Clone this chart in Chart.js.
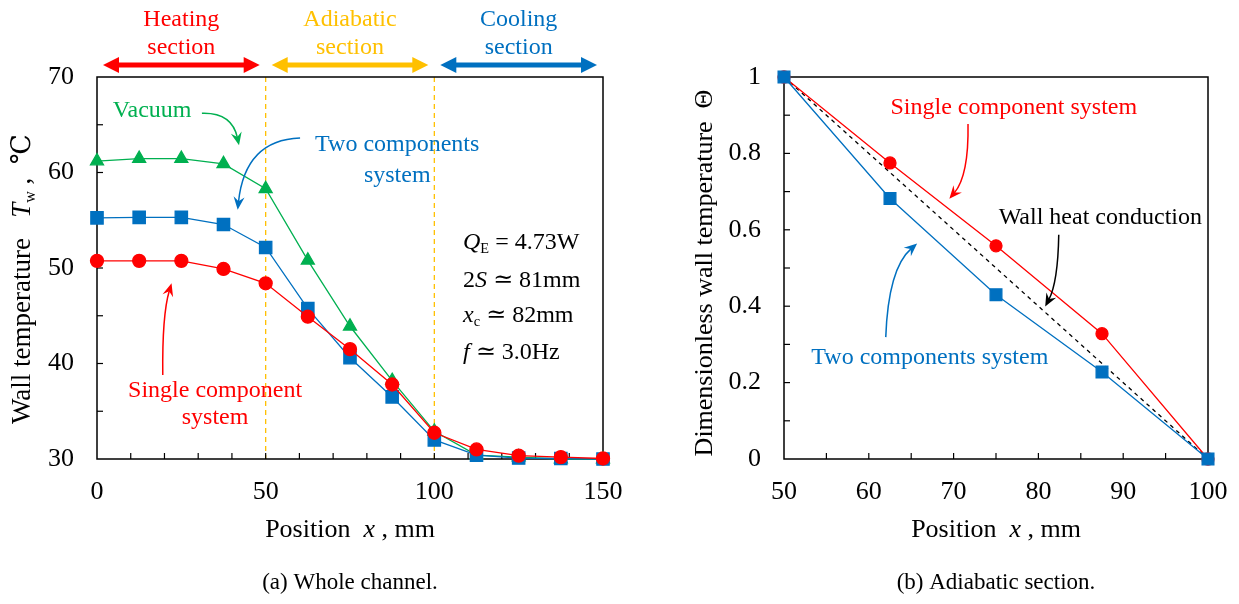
<!DOCTYPE html>
<html>
<head>
<meta charset="utf-8">
<script src="https://cdn.jsdelivr.net/npm/chart.js@4.4.0/dist/chart.umd.min.js"></script>
<style>
  html, body { margin: 0; padding: 0; background: #fff; }
  #wrap { position: relative; width: 1239px; height: 604px; }
  canvas { position: absolute; top: 0; }
  #left { left: 0; }
  #right { left: 640px; }
</style>
</head>
<body>
<div id="wrap">
  <canvas id="left" width="640" height="604"></canvas>
  <canvas id="right" width="599" height="604"></canvas>
</div>
<script>
// --- (a) whole channel ---
const positions = [0, 12.5, 25, 37.5, 50, 62.5, 75, 87.5, 100, 112.5, 125, 137.5, 150];
const vacuumTemp = [61.2, 61.45, 61.45, 60.9, 58.3, 50.8, 43.9, 38.2, 32.9, 30.4, 30.2, 30.0, 30.0];
const twoCompTemp = [55.25, 55.3, 55.3, 54.55, 52.15, 45.75, 40.6, 36.5, 32.0, 30.4, 30.1, 30.05, 30.0];
const singleCompTemp = [50.75, 50.75, 50.75, 49.9, 48.4, 44.9, 41.5, 37.8, 32.75, 31.0, 30.35, 30.2, 30.05];

// --- (b) adiabatic section ---
const adiabaticPos = [50, 62.5, 75, 87.5, 100];
const singleCompTheta = [1, 0.775, 0.558, 0.328, 0];
const twoCompTheta = [1, 0.682, 0.43, 0.228, 0];
const conductionPos = [50, 100];
const conductionTheta = [1, 0];

// sections along the channel
const sectionNames = [['Heating', 'section'], ['Adiabatic', 'section'], ['Cooling', 'section']];
const sectionBounds = [[0, 50], [50, 100], [100, 150]];

const RED = '#FF0000', BLUE = '#0070C0', GREEN = '#00B050', ORANGE = '#FFC000';
const FAMILY = '"Liberation Serif", "DejaVu Serif", "Times New Roman", serif';

function font(size, italic) {
    return (italic ? 'italic ' : '') + size + 'px ' + FAMILY;
}

// text made of pieces (italic / subscript)
function drawRich(ctx, parts, x, y, size, color, align) {
    let w = 0;
    parts.forEach(p => {
        ctx.font = font(p.sub ? size * 0.6 : size, p.it);
        p._w = ctx.measureText(p.t).width;
        w += p._w;
    });
    let cx = align === 'left' ? x : align === 'right' ? x - w : x - w / 2;
    ctx.fillStyle = color;
    ctx.textBaseline = 'middle';
    ctx.textAlign = 'left';
    parts.forEach(p => {
        ctx.font = font(p.sub ? size * 0.6 : size, p.it);
        ctx.fillText(p.t, cx, y + (p.sub ? size * 0.28 : 0));
        cx += p._w;
    });
}

function curvedArrow(ctx, p0, c, p1, color) {
    const ang = Math.atan2(p1.y - c.y, p1.x - c.x);
    const L = 13, W = 5.5;
    const cos = Math.cos(ang), sin = Math.sin(ang);
    ctx.strokeStyle = color;
    ctx.lineWidth = 1.5;
    ctx.beginPath();
    ctx.moveTo(p0.x, p0.y);
    ctx.quadraticCurveTo(c.x, c.y, p1.x - cos * L * 0.6, p1.y - sin * L * 0.6);
    ctx.stroke();
    ctx.fillStyle = color;
    ctx.beginPath();
    ctx.moveTo(p1.x, p1.y);
    ctx.lineTo(p1.x - cos * L + sin * W, p1.y - sin * L - cos * W);
    ctx.lineTo(p1.x - cos * L * 0.65, p1.y - sin * L * 0.65);
    ctx.lineTo(p1.x - cos * L - sin * W, p1.y - sin * L + cos * W);
    ctx.closePath();
    ctx.fill();
}

function doubleArrow(ctx, x0, x1, y, color) {
    const L = 16, W = 8;
    ctx.strokeStyle = color;
    ctx.fillStyle = color;
    ctx.lineWidth = 5;
    ctx.beginPath();
    ctx.moveTo(x0 + L * 0.8, y);
    ctx.lineTo(x1 - L * 0.8, y);
    ctx.stroke();
    ctx.beginPath();
    ctx.moveTo(x0, y); ctx.lineTo(x0 + L, y - W); ctx.lineTo(x0 + L, y + W);
    ctx.closePath(); ctx.fill();
    ctx.beginPath();
    ctx.moveTo(x1, y); ctx.lineTo(x1 - L, y - W); ctx.lineTo(x1 - L, y + W);
    ctx.closePath(); ctx.fill();
}

// frame, inward ticks, dashed borders, notes, arrows, titles
const paperPlugin = {
    id: 'paper',
    beforeDatasetsDraw(chart, args, o) {
        const { ctx, chartArea: a, scales: { x, y } } = chart;
        ctx.save();
        ctx.strokeStyle = ORANGE;
        ctx.lineWidth = 1.3;
        ctx.setLineDash([5, 4]);
        (o.dashX || []).forEach(v => {
            const px = x.getPixelForValue(v);
            ctx.beginPath(); ctx.moveTo(px, a.top); ctx.lineTo(px, a.bottom); ctx.stroke();
        });
        ctx.setLineDash([]);
        ctx.strokeStyle = '#000';
        ctx.lineWidth = 1.5;
        ctx.strokeRect(a.left, a.top, a.right - a.left, a.bottom - a.top);
        ctx.lineWidth = 1.2;
        const tl = 6;
        const nx = Math.round((x.max - x.min) / o.minorX);
        for (let i = 1; i < nx; i++) {
            const px = x.getPixelForValue(x.min + i * o.minorX);
            ctx.beginPath(); ctx.moveTo(px, a.bottom); ctx.lineTo(px, a.bottom - tl); ctx.stroke();
        }
        const ny = Math.round((y.max - y.min) / o.minorY);
        for (let i = 1; i < ny; i++) {
            const py = y.getPixelForValue(y.min + i * o.minorY);
            ctx.beginPath(); ctx.moveTo(a.left, py); ctx.lineTo(a.left + tl, py); ctx.stroke();
        }
        ctx.restore();
    },
    afterDatasetsDraw(chart, args, o) {
        const { ctx, chartArea: a, scales: { x, y } } = chart;
        const pt = v => ({ x: x.getPixelForValue(v[0]), y: y.getPixelForValue(v[1]) });
        ctx.save();
        (o.notes || []).forEach(n => {
            const p = pt([n.x, n.y]);
            drawRich(ctx, n.parts, p.x, p.y, 24, n.color, n.align || 'center');
        });
        (o.arrows || []).forEach(ar => {
            curvedArrow(ctx, pt(ar.from), pt(ar.ctrl), pt(ar.to), ar.color);
        });
        if (o.sections) {
            const cols = [RED, ORANGE, BLUE];
            sectionBounds.forEach((b, i) => {
                const x0 = x.getPixelForValue(b[0]) + 6, x1 = x.getPixelForValue(b[1]) - 6;
                doubleArrow(ctx, x0, x1, a.top - 12, cols[i]);
                drawRich(ctx, [{ t: sectionNames[i][0] }], (x0 + x1) / 2, 20, 24, cols[i], 'center');
                drawRich(ctx, [{ t: sectionNames[i][1] }], (x0 + x1) / 2, 48, 24, cols[i], 'center');
            });
        }
        const cx = (a.left + a.right) / 2;
        drawRich(ctx, o.xTitle, cx, 530, 26, '#000', 'center');
        ctx.save();
        ctx.translate(a.left - o.yTitleGap, (a.top + a.bottom) / 2 + o.yTitleShift);
        ctx.rotate(-Math.PI / 2);
        drawRich(ctx, o.yTitle, 0, 0, o.yTitleSize, '#000', 'center');
        ctx.restore();
        drawRich(ctx, [{ t: o.caption }], cx, 583, 23, '#000', 'center');
        ctx.restore();
    }
};

function axis(min, max, step, fit, pad, fmt) {
    return {
        type: 'linear', min: min, max: max,
        afterFit: fit,
        grid: { display: false, drawTicks: false },
        border: { display: false },
        ticks: {
            stepSize: step, padding: pad, color: '#000', autoSkip: false, maxRotation: 0,
            font: { family: FAMILY, size: 26 },
            callback: fmt || (v => String(v))
        }
    };
}

// fixed axis box; labels may overhang the plot edges
function fixX(s) { s.height = 145; s.paddingLeft = 0; s.paddingRight = 0; }

function series(xs, ys) {
    return xs.map((p, i) => ({ x: p, y: ys[i] }));
}

new Chart(document.getElementById('left'), {
    type: 'line',
    data: {
        datasets: [
            { data: series(positions, singleCompTemp), borderColor: RED, backgroundColor: RED,
              pointStyle: 'circle', pointRadius: 6.5, borderWidth: 1.3, clip: false },
            { data: series(positions, twoCompTemp), borderColor: BLUE, backgroundColor: BLUE,
              pointStyle: 'rect', pointRadius: 8.7, borderWidth: 1.3, clip: false },
            { data: series(positions, vacuumTemp), borderColor: GREEN, backgroundColor: GREEN,
              pointStyle: 'triangle', pointRadius: 7.5, borderWidth: 1.3, clip: false }
        ]
    },
    options: {
        responsive: false, animation: false, devicePixelRatio: 1,
        layout: { padding: { top: 77, right: 37, bottom: 0, left: 0 } },
        plugins: {
            legend: { display: false },
            tooltip: { enabled: false },
            paper: {
                minorX: 10, minorY: 5, dashX: [50, 100], sections: true,
                xTitle: [{ t: 'Position  ' }, { t: 'x', it: true }, { t: ' , mm' }],
                yTitle: [{ t: 'Wall temperature   ' }, { t: 'T', it: true }, { t: 'w', sub: true }, { t: ' ,  ℃' }],
                yTitleGap: 74, yTitleShift: 11, yTitleSize: 27,
                caption: '(a) Whole channel.',
                notes: [
                    { parts: [{ t: 'Vacuum' }], x: 4.7, y: 66.5, color: GREEN, align: 'left' },
                    { parts: [{ t: 'Two components' }], x: 89.0, y: 62.9, color: BLUE },
                    { parts: [{ t: 'system' }], x: 89.0, y: 59.7, color: BLUE },
                    { parts: [{ t: 'Single component' }], x: 35.0, y: 37.2, color: RED },
                    { parts: [{ t: 'system' }], x: 35.0, y: 34.3, color: RED },
                    { parts: [{ t: 'Q', it: true }, { t: 'E', sub: true }, { t: ' = 4.73W' }], x: 108.5, y: 52.7, color: '#000', align: 'left' },
                    { parts: [{ t: '2' }, { t: 'S', it: true }, { t: ' ≃ 81mm' }], x: 108.5, y: 48.7, color: '#000', align: 'left' },
                    { parts: [{ t: 'x', it: true }, { t: 'c', sub: true }, { t: ' ≃ 82mm' }], x: 108.5, y: 45.0, color: '#000', align: 'left' },
                    { parts: [{ t: 'f', it: true }, { t: ' ≃ 3.0Hz' }], x: 108.5, y: 41.1, color: '#000', align: 'left' }
                ],
                arrows: [
                    { from: [31.1, 66.2], ctrl: [40.0, 66.3], to: [42.1, 62.85], color: GREEN },
                    { from: [60.2, 63.6], ctrl: [43.9, 63.4], to: [41.7, 56.1], color: BLUE },
                    { from: [19.5, 38.8], ctrl: [19.3, 45.1], to: [22.1, 48.4], color: RED }
                ]
            }
        },
        scales: {
            x: axis(0, 150, 50, fixX, 18),
            y: axis(30, 70, 10, s => { s.width = 97; }, 23)
        }
    },
    plugins: [paperPlugin]
});

new Chart(document.getElementById('right'), {
    type: 'line',
    data: {
        datasets: [
            { data: series(adiabaticPos, twoCompTheta), borderColor: BLUE, backgroundColor: BLUE,
              pointStyle: 'rect', pointRadius: 8.3, borderWidth: 1.3, clip: false },
            { data: series(adiabaticPos, singleCompTheta), borderColor: RED, backgroundColor: RED,
              pointStyle: 'circle', pointRadius: 6, borderWidth: 1.3, clip: false },
            { data: series(conductionPos, conductionTheta), borderColor: '#000', borderDash: [4, 4],
              pointRadius: 0, borderWidth: 1.3, clip: false }
        ]
    },
    options: {
        responsive: false, animation: false, devicePixelRatio: 1,
        layout: { padding: { top: 77, right: 31, bottom: 0, left: 0 } },
        plugins: {
            legend: { display: false },
            tooltip: { enabled: false },
            paper: {
                minorX: 5, minorY: 0.1, dashX: [], sections: false,
                xTitle: [{ t: 'Position  ' }, { t: 'x', it: true }, { t: ' , mm' }],
                yTitle: [{ t: 'Dimensionless wall temperature  Θ' }],
                yTitleGap: 79, yTitleShift: 5, yTitleSize: 26,
                caption: '(b) Adiabatic section.',
                notes: [
                    { parts: [{ t: 'Single component system' }], x: 77.1, y: 0.919, color: RED },
                    { parts: [{ t: 'Wall heat conduction' }], x: 87.3, y: 0.632, color: '#000' },
                    { parts: [{ t: 'Two components system' }], x: 67.2, y: 0.264, color: BLUE }
                ],
                arrows: [
                    { from: [71.7, 0.877], ctrl: [71.8, 0.742], to: [69.5, 0.681], color: RED },
                    { from: [82.4, 0.587], ctrl: [82.3, 0.462], to: [80.8, 0.399], color: '#000' },
                    { from: [62.0, 0.319], ctrl: [62.3, 0.499], to: [65.7, 0.564], color: BLUE }
                ]
            }
        },
        scales: {
            x: axis(50, 100, 10, fixX, 18),
            y: axis(0, 1, 0.2, s => { s.width = 144; }, 23, v => String(Math.round(v * 10) / 10))
        }
    },
    plugins: [paperPlugin]
});
</script>
</body>
</html>
